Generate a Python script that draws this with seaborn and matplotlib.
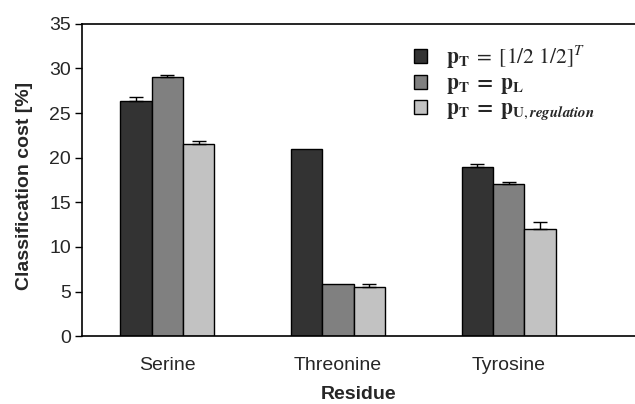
#!/usr/bin/env python3
"""Classification cost per residue for three choices of the target prior."""
import matplotlib
matplotlib.use("Agg")
import matplotlib.pyplot as plt
import numpy as np
import pandas as pd
import seaborn as sns

RESIDUES = ["Serine", "Threonine", "Tyrosine"]
SETTINGS = [
    r"$\mathbf{p}_\mathbf{T}\;\mathrm{=}\;\mathrm{[1/2\ 1/2]}^{T}$",
    r"$\mathbf{p}_\mathbf{T}\;\mathbf{=}\;\mathbf{p}_\mathbf{L}$",
    r"$\mathbf{p}_\mathbf{T}\;\mathbf{=}\;\mathbf{p}_{\mathbf{U},\mathbfit{regulation}}$",
]
COST_UNIFORM = [26.4, 21.0, 19.0]
COST_LABELED = [29.0, 5.85, 17.1]
COST_REGULATION = [21.5, 5.5, 12.05]
ERR_UNIFORM = [0.35, 0.0, 0.3]
ERR_LABELED = [0.3, 0.0, 0.15]
ERR_REGULATION = [0.35, 0.35, 0.75]
COLORS = ["#333333", "#808080", "#c2c2c2"]


def main() -> None:
    sns.set_style("white")
    plt.rcParams["font.family"] = ["Liberation Sans", "DejaVu Sans"]
    plt.rcParams["mathtext.fontset"] = "stix"

    costs = [COST_UNIFORM, COST_LABELED, COST_REGULATION]
    errs = [ERR_UNIFORM, ERR_LABELED, ERR_REGULATION]
    df = pd.DataFrame({
        "residue": np.repeat([RESIDUES], 3, axis=0).ravel(),
        "setting": np.repeat(SETTINGS, 3),
        "cost": np.concatenate(costs),
    })

    fig = plt.figure(figsize=(6.35, 4.04), dpi=100)
    ax = fig.add_axes([0.129, 0.168, 0.871, 0.773])
    sns.barplot(data=df, x="residue", y="cost", hue="setting", order=RESIDUES,
                hue_order=SETTINGS, palette=COLORS, width=0.55, edgecolor="black",
                linewidth=1.0, errorbar=None, ax=ax)

    # one-sided (upper) error bars on top of each bar
    for cont, err in zip(ax.containers, errs):
        xs = np.array([b.get_x() + b.get_width() / 2 for b in cont])
        ys = np.array([b.get_height() for b in cont])
        e = np.array(err)
        mask = e > 0
        ax.errorbar(xs[mask], ys[mask], yerr=[np.zeros(mask.sum()), e[mask]],
                    fmt="none", ecolor="black", elinewidth=1.0, capsize=5, capthick=1.0)

    ax.set_ylim(0, 35)
    ax.set_xlim(-0.5, 2.74)
    ax.set_yticks(range(0, 36, 5))
    ax.set_xticks([-0.5, 0.5, 1.5, 2.5], minor=True)
    ax.tick_params(axis="x", which="major", length=0, labelsize=14, pad=15)
    ax.tick_params(axis="x", which="minor", length=5, width=1, direction="out", color="black")
    ax.tick_params(axis="y", length=5, width=1, direction="out", color="black",
                   labelsize=14, left=True, pad=3)
    ax.set_xlabel("Residue", fontsize=14, fontweight="bold", labelpad=9)
    ax.set_ylabel("Classification cost [%]", fontsize=14, fontweight="bold")
    ax.yaxis.set_label_coords(-0.088, 0.48)

    for side in ["left", "bottom", "top"]:
        ax.spines[side].set_color("black")
        ax.spines[side].set_linewidth(1.2)
    ax.spines["right"].set_visible(False)

    ax.legend(title=None, frameon=False, loc="upper left", bbox_to_anchor=(0.565, 1.0),
              fontsize=15.5, handlelength=0.6, handleheight=0.6, labelspacing=0.12,
              handletextpad=0.9)

    fig.savefig("out.png", dpi=100)
    plt.close(fig)


if __name__ == "__main__":
    main()
